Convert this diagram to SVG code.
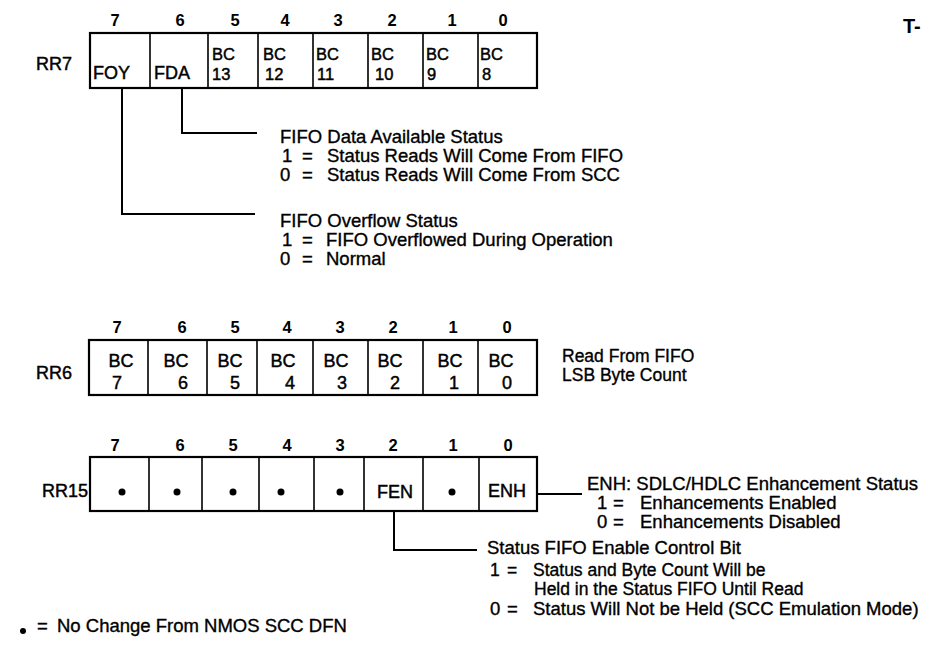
<svg xmlns="http://www.w3.org/2000/svg" width="940" height="664" viewBox="0 0 940 664">
<style>
text{font-family:"Liberation Sans",Arial,sans-serif;fill:#000}
.bit{font-size:16.5px;font-weight:bold;text-anchor:middle}
.reg{font-size:18px;stroke:#000;stroke-width:0.45}
.cell{font-size:18px;stroke:#000;stroke-width:0.45}
.bc{font-size:16.5px}
.mid{text-anchor:middle}
.end{text-anchor:end}
.d{font-size:18.5px;stroke:#000;stroke-width:0.35}
.s{font-size:17.5px}
.box{fill:#fff;stroke:#000;stroke-width:2.2}
.div{stroke:#000;stroke-width:1.6}
.con{fill:none;stroke:#000;stroke-width:2}
</style>
<rect width="940" height="664" fill="#fff"/>
<text x="903" y="33" style="font-size:20px;font-weight:bold">T-</text>

<g id="rr7">
<g class="bit"><text x="115" y="26">7</text><text x="180" y="26">6</text><text x="235" y="26">5</text><text x="285" y="26">4</text><text x="338" y="26">3</text><text x="392" y="26">2</text><text x="452" y="26">1</text><text x="503" y="26">0</text></g>
<text class="reg" x="36" y="70">RR7</text>
<rect class="box" x="90" y="33" width="447" height="55"/>
<path class="div" d="M150 33V88M208 33V88M258 33V88M313 33V88M368 33V88M423 33V88M478 33V88"/>
<g class="cell">
<text x="93" y="79">FOY</text><text x="154" y="79">FDA</text>
</g>
<g class="cell bc">
<text x="212" y="60">BC</text><text x="212" y="80">13</text>
<text x="263" y="60">BC</text><text x="265" y="80">12</text>
<text x="316" y="60">BC</text><text x="317" y="80">11</text>
<text x="371" y="60">BC</text><text x="375" y="80">10</text>
<text x="426" y="60">BC</text><text x="427" y="80">9</text>
<text x="480" y="60">BC</text><text x="482" y="80">8</text>
</g>
</g>

<g id="fda-desc" class="d">
<text x="280" y="143">FIFO Data Available Status</text>
<text x="282" y="162">1</text><text x="302" y="162">=</text><text x="327" y="162">Status Reads Will Come From FIFO</text>
<text x="280" y="181">0</text><text x="302" y="181">=</text><text x="327" y="181">Status Reads Will Come From SCC</text>
</g>
<g id="foy-desc" class="d">
<text x="280" y="227">FIFO Overflow Status</text>
<text x="282" y="246">1</text><text x="302" y="246">=</text><text x="326" y="246">FIFO Overflowed During Operation</text>
<text x="280" y="265">0</text><text x="302" y="265">=</text><text x="326" y="265">Normal</text>
</g>

<g id="rr6">
<g class="bit"><text x="117" y="333">7</text><text x="182" y="333">6</text><text x="235" y="333">5</text><text x="287" y="333">4</text><text x="340" y="333">3</text><text x="393" y="333">2</text><text x="453" y="333">1</text><text x="507" y="333">0</text></g>
<text class="reg" x="36" y="379">RR6</text>
<rect class="box" x="89" y="340" width="448" height="55"/>
<path class="div" d="M148 340V395M207 340V395M257 340V395M313 340V395M368 340V395M423 340V395M478 340V395"/>
<g class="cell mid">
<text x="121" y="367">BC</text><text x="117" y="389">7</text>
<text x="176" y="367">BC</text><text x="183" y="389">6</text>
<text x="230" y="367">BC</text><text x="235" y="389">5</text>
<text x="283" y="367">BC</text><text x="290" y="389">4</text>
<text x="336" y="367">BC</text><text x="342" y="389">3</text>
<text x="390" y="367">BC</text><text x="395" y="389">2</text>
<text x="450" y="367">BC</text><text x="454" y="389">1</text>
<text x="501" y="367">BC</text><text x="507" y="389">0</text>
</g>
<text class="d s" x="562" y="362">Read From FIFO</text>
<text class="d s" x="562" y="381">LSB Byte Count</text>
</g>

<g id="rr15">
<g class="bit"><text x="115" y="451">7</text><text x="180" y="451">6</text><text x="233" y="451">5</text><text x="287" y="451">4</text><text x="340" y="451">3</text><text x="393" y="451">2</text><text x="453" y="451">1</text><text x="508" y="451">0</text></g>
<text class="reg end" x="88" y="497">RR15</text>
<rect class="box" x="90" y="457" width="447" height="54"/>
<path class="div" d="M149 457V511M202 457V511M259 457V511M314 457V511M364 457V511M423 457V511M479 457V511"/>
<g fill="#000"><circle cx="122" cy="492" r="3.5"/><circle cx="177" cy="492" r="3.5"/><circle cx="233" cy="492" r="3.5"/><circle cx="281" cy="492" r="3.5"/><circle cx="340" cy="492" r="3.5"/><circle cx="452" cy="492" r="3.5"/></g>
<text class="cell mid" x="395" y="498">FEN</text>
<text class="cell mid" x="507" y="497">ENH</text>
</g>

<g id="enh-desc" class="d">
<text x="587" y="490">ENH:  SDLC/HDLC Enhancement Status</text>
<text x="597" y="509">1</text><text x="613" y="509">=</text><text x="640" y="509">Enhancements Enabled</text>
<text x="597" y="528">0</text><text x="613" y="528">=</text><text x="640" y="528">Enhancements Disabled</text>
</g>
<g id="fen-desc" class="d">
<text x="487" y="554">Status FIFO Enable Control Bit</text>
<text class="s" x="490" y="576">1</text><text class="s" x="507" y="576">=</text><text class="s" x="533" y="576">Status and Byte Count Will be</text>
<text class="s" x="534" y="595">Held in the Status FIFO Until Read</text>
<text x="490" y="615">0</text><text x="507" y="615">=</text><text x="533" y="615">Status Will Not be Held (SCC Emulation Mode)</text>
</g>

<g id="connectors" class="con">
<path d="M122 88V214H255"/>
<path d="M182 88V133H257"/>
<path d="M537 494H582"/>
<path d="M394 511V550H477"/>
</g>

<g id="legend">
<circle cx="23" cy="631" r="3" fill="#000"/>
<text class="d" x="37" y="632">=</text>
<text class="d" x="57" y="632">No Change From NMOS SCC DFN</text>
</g>
</svg>
